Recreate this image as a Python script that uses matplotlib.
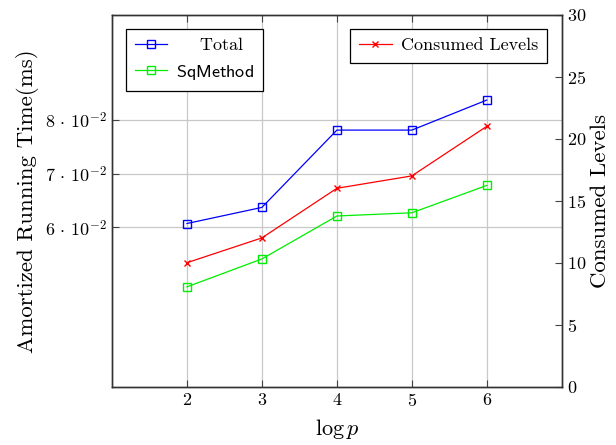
import matplotlib
matplotlib.use('Agg')
import matplotlib.pyplot as plt

plt.rcParams['font.family'] = ['cmr10', 'DejaVu Serif']
plt.rcParams['mathtext.fontset'] = 'cm'
plt.rcParams['axes.formatter.use_mathtext'] = True
plt.rcParams['axes.unicode_minus'] = False

# Data
log_p = [2, 3, 4, 5, 6]
total_ms = [0.0607, 0.0637, 0.0781, 0.0781, 0.0837]
sqmethod_ms = [0.0489, 0.0541, 0.0621, 0.0627, 0.0678]
consumed_levels = [10, 12, 16, 17, 21]

time_ticks = [0.06, 0.07, 0.08]
time_tick_labels = [r'$6\,\cdot\,10^{-2}$', r'$7\,\cdot\,10^{-2}$', r'$8\,\cdot\,10^{-2}$']
level_ticks = [0, 5, 10, 15, 20, 25, 30]

fig = plt.figure(figsize=(6.16, 4.45), dpi=100)
ax = fig.add_axes([0.1818, 0.131, 0.7302, 0.836])

ax.plot(log_p, total_ms, color='blue', marker='s', markersize=5.5, markerfacecolor='none',
        linewidth=0.9, label='    Total')
ax.plot(log_p, sqmethod_ms, color='#00ee00', marker='s', markersize=5.5, markerfacecolor='none',
        linewidth=0.9, label=r'$\mathsf{SqMethod}$')
ax.set_xlim(1, 7)
ax.set_ylim(0.0303, 0.0996)
ax.set_xticks(log_p)
ax.set_yticks(time_ticks)
ax.set_yticklabels(time_tick_labels)
ax.grid(True, color='#c8c8c8', linewidth=0.9)
ax.set_axisbelow(True)
ax.tick_params(direction='in', labelsize=13, length=5, color='#444444', top=True)
ax.set_xlabel(r'$\log p$', fontsize=16, labelpad=6)
ax.set_ylabel('Amortized Running Time(ms)', fontsize=16.5)

ax2 = ax.twinx()
ax2.plot(log_p, consumed_levels, color='red', marker='x', markersize=4.5,
         linewidth=0.9, label='Consumed Levels')
ax2.set_ylim(0, 30)
ax2.set_yticks(level_ticks)
ax2.tick_params(direction='in', labelsize=13, length=5, color='#444444')
ax2.set_ylabel('Consumed Levels', fontsize=16.5, labelpad=3)

for a in (ax, ax2):
    for s in a.spines.values():
        s.set_color('#333333')
        s.set_linewidth(1.0)

leg1 = ax.legend(loc='upper left', bbox_to_anchor=(0.031, 0.962), borderaxespad=0,
                 fontsize=13, fancybox=False, edgecolor='black', framealpha=1,
                 handlelength=1.8, borderpad=0.5, labelspacing=0.5, handletextpad=0.5)
leg1.get_frame().set_linewidth(0.9)
leg2 = ax2.legend(loc='upper right', bbox_to_anchor=(0.967, 0.962), borderaxespad=0,
                  fontsize=13, fancybox=False, edgecolor='black', framealpha=1,
                  handlelength=1.8, borderpad=0.5, handletextpad=0.5)
leg2.get_frame().set_linewidth(0.9)

fig.savefig('out.png', dpi=100)
